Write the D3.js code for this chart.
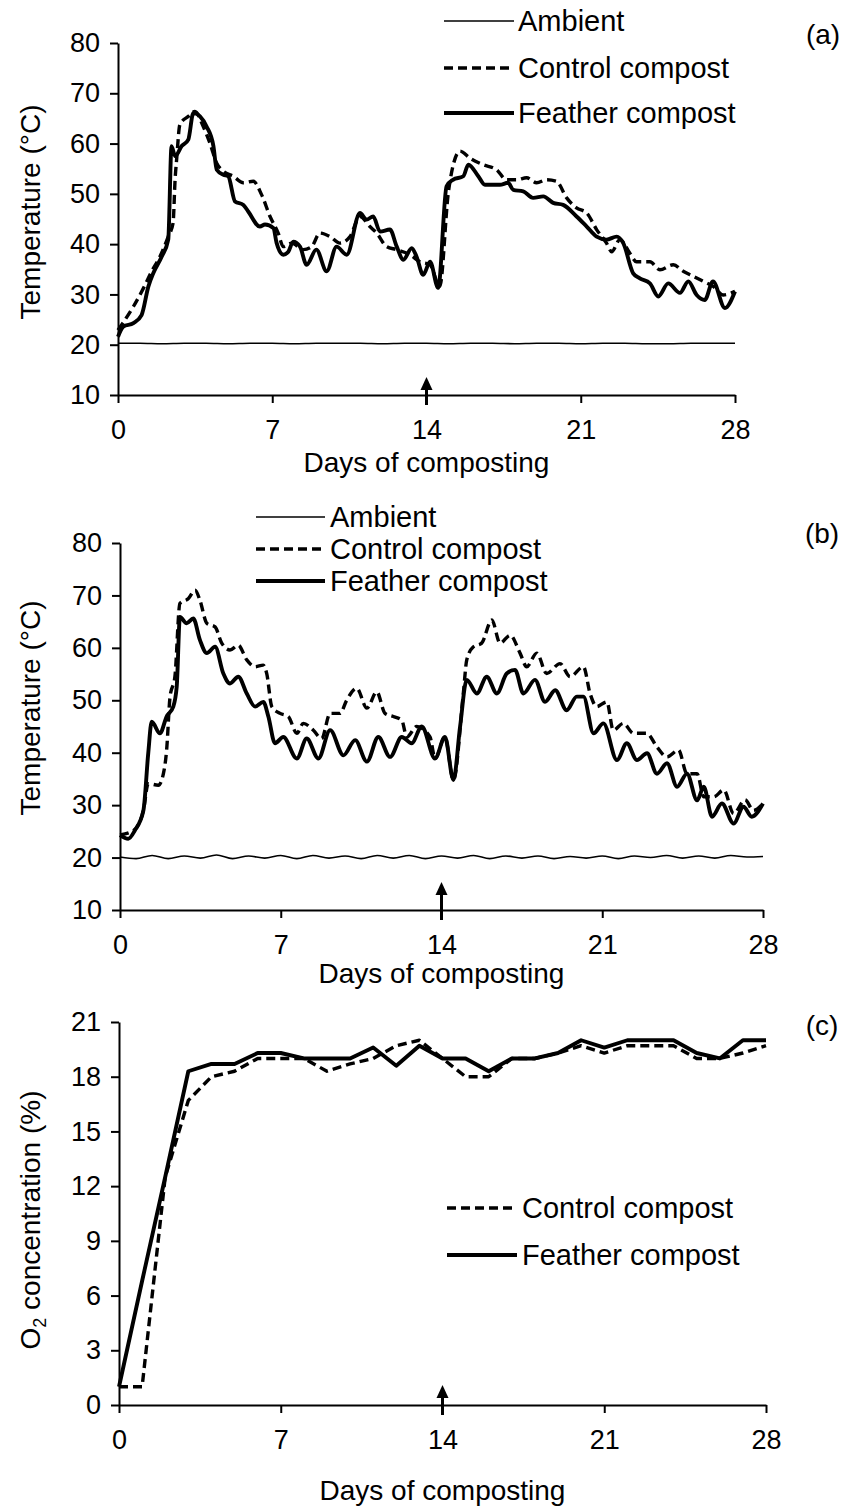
<!DOCTYPE html>
<meta charset="utf-8">
<head>
  <title>Composting temperature and oxygen</title>
<style>
  body { margin: 0; background: #fff; }
  text { font-family: "Liberation Sans", Arial, sans-serif; fill: #000; }
</style>
</head>
<body>
<script src="https://d3js.org/d3.v7.min.js"></script>
<script>
var WIDTH = 850,
    HEIGHT = 1506;

var dayTicks = [0, 7, 14, 21, 28],
    tempTicks = [10, 20, 30, 40, 50, 60, 70, 80],
    o2Ticks = [0, 3, 6, 9, 12, 15, 18, 21],
    arrowDay = 14;

// panel (a): [day, temperature]
var ambientA = [[0,20.3],[1,20.3],[2,20.2],[3,20.3],[4,20.3],[5,20.2],[6,20.3],[7,20.3],[8,20.2],[9,20.3],
  [10,20.3],[11,20.3],[12,20.2],[13,20.3],[14,20.3],[15,20.2],[16,20.3],[17,20.3],[18,20.2],[19,20.3],
  [20,20.3],[21,20.2],[22,20.3],[23,20.3],[24,20.2],[25,20.2],[26,20.3],[27,20.3],[28,20.3]];

var controlA = [[0,22.9],[0.25,24.5],[0.7,27.6],[1.15,31.2],[1.53,34.6],[1.9,37.5],[2.28,41.5],[2.5,44.2],
  [2.59,52.8],[2.66,56.8],[2.81,63.8],[3.19,65.4],[3.49,66.4],[3.87,63.4],[4.17,60.1],[4.48,56.1],[4.78,54.5],
  [5.23,53.5],[5.69,52.2],[6.14,52.5],[6.52,49.8],[6.9,45.5],[7.27,42.2],[7.5,39.5],[7.88,40.2],[8.41,38.9],
  [8.79,39.5],[9.16,42.2],[9.62,41.5],[10.07,40.2],[10.53,41.5],[10.98,45.5],[11.43,43.5],[11.74,42.2],
  [12.19,39.5],[12.65,38.9],[13.25,37.9],[13.7,36.5],[14.16,35.9],[14.6,31.6],[14.99,50.2],[15.2,55.5],
  [15.52,58.5],[15.97,57.1],[16.57,55.8],[17.18,54.8],[17.63,52.8],[18.09,52.8],[18.54,53.2],[19.0,52.2],
  [19.45,52.8],[19.9,52.5],[20.36,49.2],[20.81,47.2],[21.27,46.2],[21.72,42.9],[22.17,40.2],[22.4,38.5],
  [22.78,40.9],[23.23,38.2],[23.53,36.5],[24.14,36.5],[24.59,34.9],[25.2,35.9],[25.65,34.6],[26.1,33.6],
  [26.56,32.6],[27.01,31.6],[27.47,29.9],[28,30.6]];

var featherA = [[0,21.6],[0.24,23.6],[0.7,24.3],[1.07,25.9],[1.38,31.6],[1.6,34.2],[1.98,37.5],[2.28,40.9],
  [2.43,59.5],[2.59,57.5],[2.89,59.5],[3.19,60.8],[3.42,66.1],[3.72,65.4],[4.02,63.4],[4.33,59.5],[4.48,54.8],
  [4.78,53.8],[5.0,53.5],[5.31,48.5],[5.69,47.8],[5.91,46.5],[6.44,43.5],[6.67,43.9],[7.05,43.2],[7.2,40.2],
  [7.5,37.9],[7.73,38.5],[7.95,40.5],[8.26,39.5],[8.56,35.9],[9.0,38.9],[9.47,34.6],[9.92,39.5],[10.38,37.9],
  [10.98,46.2],[11.28,44.9],[11.58,45.5],[11.89,42.5],[12.34,42.9],[12.65,39.5],[12.95,36.9],[13.33,39.2],
  [13.55,37.5],[13.85,33.9],[14.16,36.5],[14.53,31.3],[14.91,51.5],[15.2,52.8],[15.67,53.5],[15.9,55.8],
  [16.35,53.5],[16.65,51.8],[17.33,51.8],[17.7,52.2],[17.94,50.8],[18.39,50.5],[18.84,49.2],[19.3,49.5],
  [19.75,48.2],[20.2,47.8],[20.81,45.5],[21.27,43.5],[21.72,41.5],[22.17,40.9],[22.63,41.5],[22.93,40.2],
  [23.38,34.2],[23.68,33.2],[24.14,32.2],[24.52,29.6],[24.97,32.2],[25.5,30.3],[25.88,32.6],[26.26,29.9],
  [26.63,28.9],[27.0,32.6],[27.54,27.3],[28,30.6]];

// panel (b): [day, temperature]
var ambientB = [[0,20.1],[0.7,19.8],[1.4,20.4],[2.1,19.8],[2.8,20.3],[3.5,19.9],[4.2,20.5],[4.9,19.8],
  [5.6,20.3],[6.3,19.9],[7.0,20.4],[7.7,19.8],[8.4,20.4],[9.1,19.9],[9.8,20.3],[10.5,19.8],[11.2,20.4],
  [11.9,19.9],[12.6,20.4],[13.3,19.8],[14.0,20.3],[14.7,19.9],[15.4,20.4],[16.1,19.8],[16.8,20.3],[17.5,19.9],
  [18.2,20.3],[18.9,19.8],[19.6,20.2],[20.3,19.9],[21.0,20.3],[21.7,19.8],[22.4,20.3],[23.1,20.0],[23.8,20.4],
  [24.5,19.9],[25.2,20.3],[25.9,19.9],[26.6,20.4],[27.3,20.1],[28,20.2]];

var controlB = [[0,24.3],[0.6,25.2],[1.02,29.0],[1.23,34.1],[1.67,33.8],[1.89,36.0],[2.03,40.5],[2.18,50.7],
  [2.39,54.5],[2.61,68.5],[2.98,69.4],[3.27,71.0],[3.48,69.1],[3.78,64.7],[4.14,64.0],[4.43,60.9],[4.79,59.6],
  [5.15,60.5],[5.52,57.7],[5.88,56.4],[6.24,56.7],[6.39,55.1],[6.61,48.8],[6.97,47.5],[7.33,46.9],[7.7,43.7],
  [7.98,45.6],[8.42,44.3],[8.78,42.7],[9.15,47.5],[9.58,47.5],[9.87,50.0],[10.31,52.3],[10.75,48.5],
  [11.18,51.6],[11.54,47.5],[11.9,46.9],[12.27,46.2],[12.49,43.0],[12.92,45.0],[13.5,43.0],[13.72,38.9],
  [14.15,43.0],[14.52,34.8],[14.95,51.3],[15.1,57.7],[15.39,60.2],[15.75,60.9],[16.19,65.3],[16.55,60.9],
  [16.99,62.4],[17.42,59.0],[17.71,56.4],[18.15,59.0],[18.58,55.1],[19.16,57.0],[19.6,54.5],[20.18,56.4],
  [20.47,51.3],[20.76,48.8],[21.2,49.7],[21.48,44.3],[21.92,45.6],[22.36,43.7],[22.94,43.7],[23.38,41.1],
  [23.82,39.2],[24.32,40.5],[24.69,36.0],[25.13,36.0],[25.42,31.6],[25.86,31.6],[26.29,32.9],[26.72,28.4],
  [27.22,31.0],[27.58,29.0],[28,30.3]];

var featherB = [[0,24.3],[0.36,23.6],[0.65,25.2],[1.02,29.0],[1.23,39.9],[1.38,45.9],[1.74,43.7],[2.03,46.9],
  [2.32,48.8],[2.47,52.6],[2.61,65.9],[2.9,64.7],[3.19,65.6],[3.48,61.5],[3.78,59.0],[4.14,60.2],[4.5,55.1],
  [4.79,53.2],[5.15,54.5],[5.52,51.3],[5.88,48.8],[6.24,49.7],[6.46,46.9],[6.75,41.8],[7.11,43.0],[7.7,38.9],
  [8.13,42.7],[8.64,38.9],[9.15,44.3],[9.73,39.5],[10.24,42.4],[10.75,38.3],[11.25,43.0],[11.76,39.2],
  [12.27,43.0],[12.7,41.8],[13.14,45.0],[13.72,38.9],[14.15,43.0],[14.52,34.8],[14.81,45.0],[15.1,53.9],
  [15.54,51.3],[15.97,54.5],[16.41,51.3],[16.84,55.1],[17.2,55.8],[17.57,51.3],[18.07,53.9],[18.51,49.7],
  [18.95,51.9],[19.45,48.1],[19.89,50.7],[20.18,50.7],[20.62,43.7],[21.05,45.6],[21.64,38.6],[22.07,41.8],
  [22.51,38.6],[22.95,39.9],[23.38,36.0],[23.82,38.0],[24.26,33.5],[24.69,36.0],[25.13,30.9],[25.42,33.5],
  [25.78,27.8],[26.21,30.3],[26.72,26.5],[27.15,29.7],[27.51,27.8],[28,30.3]];

// panel (c): daily O2 (%)
var o2Days = [0,1,2,3,4,5,6,7,8,9,10,11,12,13,14,15,16,17,18,19,20,21,22,23,24,25,26,27,28];
var controlO2 = [1,1,12.5,16.7,18.0,18.3,19.0,19.0,19.0,18.3,18.7,19.0,19.7,20.0,19.0,18.0,18.0,19.0,19.0,
  19.3,19.7,19.3,19.7,19.7,19.7,19.0,19.0,19.3,19.7];
var featherO2 = [1,6.8,12.5,18.3,18.7,18.7,19.3,19.3,19.0,19.0,19.0,19.6,18.6,19.7,19.0,19.0,18.3,19.0,19.0,
  19.3,20.0,19.6,20.0,20.0,20.0,19.3,19.0,20.0,20.0];

var svg = d3.select("body").append("svg")
    .attr("width", WIDTH)
    .attr("height", HEIGHT);

var styles = {
  ambient: { width: 1.6, dash: null },
  control: { width: 3.4, dash: "9,5" },
  feather: { width: 3.9, dash: null }
};

function drawPanel(p) {
  var x = d3.scaleLinear().domain([0, 28]).range([p.left, p.right]);
  var y = d3.scaleLinear().domain(p.yDomain).range([p.bottom, p.top]);

  var g = svg.append("g");

  var xAxis = g.append("g")
      .attr("transform", "translate(0," + p.bottom + ")")
      .call(d3.axisBottom(x).tickValues(dayTicks).tickSize(8).tickPadding(17).tickSizeOuter(0));
  var yAxis = g.append("g")
      .attr("transform", "translate(" + p.left + ",0)")
      .call(d3.axisLeft(y).tickValues(p.yTicks).tickSize(8).tickPadding(10).tickSizeOuter(0));

  [xAxis, yAxis].forEach(function(a) {
    a.attr("font-size", 27).attr("font-family", null);
    a.selectAll("path, line").attr("stroke", "#000").attr("stroke-width", 2);
    a.selectAll("text").attr("fill", "#000");
  });

  var line = d3.line()
      .x(function(d) { return x(d[0]); })
      .y(function(d) { return y(d[1]); })
      .curve(p.curve);

  p.series.forEach(function(s) {
    g.append("path")
        .datum(s.data)
        .attr("fill", "none")
        .attr("stroke", "#000")
        .attr("stroke-width", styles[s.kind].width)
        .attr("stroke-dasharray", styles[s.kind].dash)
        .attr("stroke-linejoin", "round")
        .attr("d", line);
  });

  // arrow at day 14
  var ax = x(arrowDay);
  g.append("line")
      .attr("x1", ax).attr("x2", ax)
      .attr("y1", p.arrow[0]).attr("y2", p.arrow[1] + 8)
      .attr("stroke", "#000").attr("stroke-width", 3);
  g.append("path")
      .attr("d", "M" + ax + "," + p.arrow[1] + "L" + (ax - 6) + "," + (p.arrow[1] + 13) +
                 "L" + (ax + 6) + "," + (p.arrow[1] + 13) + "Z")
      .attr("fill", "#000");

  // legend
  p.legend.forEach(function(l, i) {
    var ly = p.legendY[i];
    g.append("line")
        .attr("x1", p.legendX[0]).attr("x2", p.legendX[1])
        .attr("y1", ly).attr("y2", ly)
        .attr("stroke", "#000")
        .attr("stroke-width", styles[l.kind].width)
        .attr("stroke-dasharray", styles[l.kind].dash);
    g.append("text")
        .attr("x", p.legendX[2]).attr("y", ly)
        .attr("dy", "0.35em")
        .attr("font-size", 29)
        .text(l.label);
  });

  // axis titles
  g.append("text")
      .attr("x", (p.left + p.right) / 2).attr("y", p.xTitleY)
      .attr("text-anchor", "middle")
      .attr("font-size", 28)
      .text("Days of composting");

  var yt = g.append("text")
      .attr("transform", "translate(" + p.yTitleX + "," + p.yTitleY + ") rotate(-90)")
      .attr("text-anchor", "middle")
      .attr("font-size", 28);
  p.yTitle(yt);

  g.append("text")
      .attr("x", p.tagX).attr("y", p.tagY)
      .attr("dy", "0.35em")
      .attr("text-anchor", "middle")
      .attr("font-size", 28)
      .text(p.tag);
}

function tempTitle(t) { t.text("Temperature (\u00B0C)"); }
function o2Title(t) {
  t.append("tspan").text("O");
  t.append("tspan").attr("font-size", 18).attr("dy", 6).text("2");
  t.append("tspan").attr("dy", -6).text(" concentration (%)");
}

drawPanel({
  left: 118, right: 735, top: 43, bottom: 395,
  yDomain: [10, 80], yTicks: tempTicks, curve: d3.curveMonotoneX,
  series: [
    { kind: "ambient", data: ambientA },
    { kind: "control", data: controlA },
    { kind: "feather", data: featherA }
  ],
  legend: [
    { kind: "ambient", label: "Ambient" },
    { kind: "control", label: "Control compost" },
    { kind: "feather", label: "Feather compost" }
  ],
  legendX: [444, 514, 518], legendY: [21, 68, 113],
  arrow: [405, 377],
  xTitleY: 472, yTitleX: 40, yTitleY: 212, yTitle: tempTitle,
  tag: "(a)", tagX: 823, tagY: 34
});

drawPanel({
  left: 120, right: 763, top: 543, bottom: 910,
  yDomain: [10, 80], yTicks: tempTicks, curve: d3.curveMonotoneX,
  series: [
    { kind: "ambient", data: ambientB },
    { kind: "control", data: controlB },
    { kind: "feather", data: featherB }
  ],
  legend: [
    { kind: "ambient", label: "Ambient" },
    { kind: "control", label: "Control compost" },
    { kind: "feather", label: "Feather compost" }
  ],
  legendX: [256, 325, 330], legendY: [517, 549, 581],
  arrow: [920, 882],
  xTitleY: 983, yTitleX: 40, yTitleY: 708, yTitle: tempTitle,
  tag: "(b)", tagX: 822, tagY: 533
});

drawPanel({
  left: 119, right: 766, top: 1022, bottom: 1405,
  yDomain: [0, 21], yTicks: o2Ticks, curve: d3.curveLinear,
  series: [
    { kind: "control", data: o2Days.map(function(d, i) { return [d, controlO2[i]]; }) },
    { kind: "feather", data: o2Days.map(function(d, i) { return [d, featherO2[i]]; }) }
  ],
  legend: [
    { kind: "control", label: "Control compost" },
    { kind: "feather", label: "Feather compost" }
  ],
  legendX: [447, 517, 522], legendY: [1208, 1255],
  arrow: [1415, 1385],
  xTitleY: 1500, yTitleX: 40, yTitleY: 1220, yTitle: o2Title,
  tag: "(c)", tagX: 822, tagY: 1025
});
</script>
</body>
